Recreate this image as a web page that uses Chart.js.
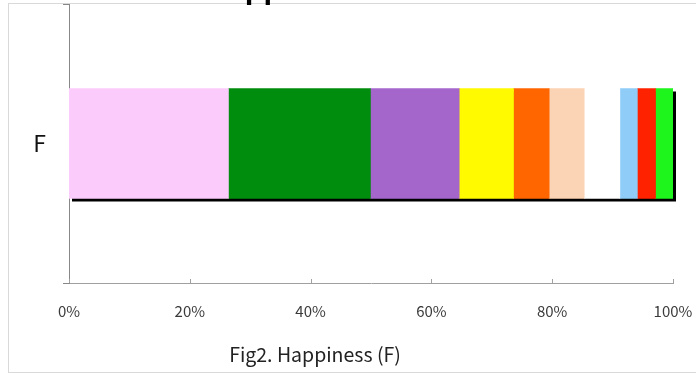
<!DOCTYPE html>
<html>
<head>
<meta charset="utf-8">
<script src="https://cdn.jsdelivr.net/npm/chart.js@4/dist/chart.umd.min.js"></script>
<style>
  html, body { margin: 0; padding: 0; background: #ffffff; }
  canvas { display: block; }
</style>
</head>
<body>
<canvas id="chart" width="696" height="373"></canvas>
<script>
// Response shares (percent of respondents) for group F
const categories = ['F'];
const shares = [26.4, 23.5, 14.7, 9.0, 5.9, 5.8, 5.9, 2.9, 3.0, 2.9];
const segmentNames = ['1', '2', '3', '4', '5', '6', '7', '8', '9', '10'];
const xTickValues = [0, 20, 40, 60, 80, 100];
const chartTitle = 'Happiness';
const caption = 'Fig2. Happiness (F)';

const segmentColors = ['#fbccfb', '#008c0c', '#a566cc', '#fffa00', '#ff6600',
                       '#fbd3b5', '#ffffff', '#8fcdf8', '#ff2200', '#1df51d'];

const datasets = shares.map((v, i) => ({
  label: segmentNames[i],
  data: [v],
  backgroundColor: segmentColors[i],
  borderWidth: 0,
  barThickness: 110
}));

function noScalePadding(s) {
  s.paddingTop = 0;
  s.paddingBottom = 0;
  s.paddingLeft = 0;
  s.paddingRight = 0;
}

// Drop shadow behind the stacked bar, framing, title and caption
const decorations = {
  id: 'decorations',
  beforeDraw(chart) {
    const ctx = chart.ctx;
    ctx.save();
    ctx.fillStyle = '#ffffff';
    ctx.fillRect(0, 0, chart.width, chart.height);
    ctx.strokeStyle = '#d9d9d9';
    ctx.lineWidth = 1;
    ctx.strokeRect(8.5, 3.5, chart.width + 10, chart.height - 4);
    ctx.restore();
  },
  beforeDatasetsDraw(chart) {
    const ctx = chart.ctx;
    const first = chart.getDatasetMeta(0).data[0];
    const last = chart.getDatasetMeta(chart.data.datasets.length - 1).data[0];
    if (!first || !last) return;
    const left = Math.min(first.base, first.x);
    const right = Math.max(last.x, last.base);
    const top = first.y - first.height / 2;
    ctx.save();
    ctx.fillStyle = '#000000';
    ctx.fillRect(left + 3, top + 3, right - left, first.height);
    ctx.restore();
  },
  afterDraw(chart) {
    const ctx = chart.ctx;
    const xs = chart.scales.x;
    const area = chart.chartArea;
    ctx.save();
    // inner tick marks on the value axis
    ctx.strokeStyle = '#a0a0a0';
    ctx.lineWidth = 1;
    xTickValues.forEach(v => {
      const px = Math.round(xs.getPixelForValue(v)) + 0.5;
      ctx.beginPath();
      ctx.moveTo(px, area.bottom);
      ctx.lineTo(px, area.bottom - 4);
      ctx.stroke();
    });
    // title (sits mostly above the top edge)
    ctx.fillStyle = '#000000';
    ctx.font = 'bold 31px "Liberation Sans", Arial, sans-serif';
    ctx.textAlign = 'left';
    ctx.textBaseline = 'alphabetic';
    ctx.fillText(chartTitle, 205, -2.5);
    // caption
    ctx.fillStyle = '#222222';
    ctx.font = '19.5px "Noto Sans CJK JP", sans-serif';
    ctx.textAlign = 'center';
    ctx.textBaseline = 'middle';
    ctx.fillText(caption, 315, 355);
    ctx.restore();
  }
};

new Chart(document.getElementById('chart'), {
  type: 'bar',
  data: { labels: categories, datasets },
  options: {
    indexAxis: 'y',
    responsive: false,
    animation: false,
    devicePixelRatio: 1,
    layout: { padding: { left: 0, right: 23, top: 4, bottom: 0 } },
    plugins: {
      legend: { display: false },
      tooltip: { enabled: false },
      title: { display: false }
    },
    scales: {
      x: {
        stacked: true,
        min: 0,
        max: 100,
        afterFit(s) { s.height = 90; noScalePadding(s); },
        afterBuildTicks(s) { s.ticks = xTickValues.map(v => ({ value: v })); },
        grid: { display: false, drawTicks: false },
        border: { display: true, color: '#a0a0a0', width: 1 },
        ticks: {
          padding: 19,
          color: '#3a3a3a',
          font: { family: '"Noto Sans CJK JP", sans-serif', size: 15 },
          callback: v => v + '%',
          maxRotation: 0
        }
      },
      y: {
        stacked: true,
        afterFit(s) { s.width = 69; noScalePadding(s); },
        grid: {
          display: true,
          drawOnChartArea: false,
          drawTicks: true,
          tickLength: 6,
          color: '#888888',
          offset: true
        },
        border: { display: true, color: '#888888', width: 1 },
        ticks: {
          padding: 17,
          color: '#111111',
          font: { family: '"Noto Sans CJK JP", sans-serif', size: 23 }
        }
      }
    }
  },
  plugins: [decorations]
});
</script>
</body>
</html>
